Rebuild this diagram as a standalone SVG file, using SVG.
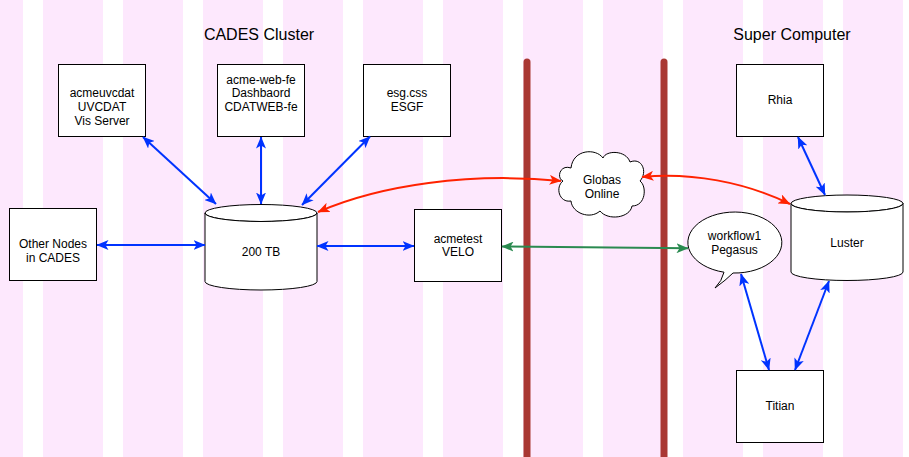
<svg xmlns="http://www.w3.org/2000/svg" width="909" height="457" viewBox="0 0 909 457">
<defs>
<pattern id="stripes" patternUnits="userSpaceOnUse" x="43" y="0" width="80" height="457">
<rect x="0" y="0" width="60" height="457" fill="#fde8fd"/>
</pattern>
<marker id="ab" viewBox="0 0 12 10" refX="11.5" refY="5" markerWidth="12" markerHeight="10" markerUnits="userSpaceOnUse" orient="auto-start-reverse">
<path d="M0,0 L12,5 L0,10 L3,5 Z" fill="#0033ff"/>
</marker>
<marker id="ar" viewBox="0 0 12 10" refX="11.5" refY="5" markerWidth="12" markerHeight="10" markerUnits="userSpaceOnUse" orient="auto-start-reverse">
<path d="M0,0 L12,5 L0,10 L3,5 Z" fill="#ff2200"/>
</marker>
<marker id="ag" viewBox="0 0 12 10" refX="11.5" refY="5" markerWidth="12" markerHeight="10" markerUnits="userSpaceOnUse" orient="auto-start-reverse">
<path d="M0,0 L12,5 L0,10 L3,5 Z" fill="#2a8a50"/>
</marker>
</defs>
<style>
.box{fill:#ffffff;stroke:#000000;stroke-width:1}
.lbl{font-family:"Liberation Sans",Arial,sans-serif;font-size:12px;fill:#000000;text-anchor:middle}
.title{font-family:"Liberation Sans",Arial,sans-serif;font-size:16px;fill:#000000;text-anchor:middle}
.bar{stroke:#a93833;stroke-width:7;stroke-linecap:round;fill:none}
.cb{fill:none;stroke:#0033ff;stroke-width:2;marker-start:url(#ab);marker-end:url(#ab)}
.cr{fill:none;stroke:#ff2200;stroke-width:2;marker-start:url(#ar);marker-end:url(#ar)}
.cg{fill:none;stroke:#2a8a50;stroke-width:2;marker-start:url(#ag);marker-end:url(#ag)}
</style>
<rect x="0" y="0" width="909" height="457" fill="#ffffff"/>
<rect x="0" y="0" width="909" height="457" fill="url(#stripes)"/>

<g id="dividers">
<line class="bar" x1="527" y1="62" x2="527" y2="462"/>
<line class="bar" x1="664" y1="62" x2="664" y2="462"/>
</g>

<g id="titles">
<text class="title" x="259" y="40">CADES Cluster</text>
<text class="title" x="792" y="40">Super Computer</text>
</g>

<g id="node-acmeuvcdat">
<rect class="box" x="58.5" y="64.5" width="87" height="72"/>
<text class="lbl" x="102" y="97">acmeuvcdat</text>
<text class="lbl" x="102" y="111">UVCDAT</text>
<text class="lbl" x="102" y="125">Vis Server</text>
</g>

<g id="node-acme-web-fe">
<rect class="box" x="217.5" y="64.5" width="87" height="72"/>
<text class="lbl" x="261" y="83.5">acme-web-fe</text>
<text class="lbl" x="261" y="97">Dashbaord</text>
<text class="lbl" x="261" y="111">CDATWEB-fe</text>
</g>

<g id="node-esg">
<rect class="box" x="363.5" y="64.5" width="87" height="72"/>
<text class="lbl" x="407" y="97">esg.css</text>
<text class="lbl" x="407" y="111">ESGF</text>
</g>

<g id="node-rhia">
<rect class="box" x="736.5" y="64.5" width="87" height="72"/>
<text class="lbl" x="780" y="104">Rhia</text>
</g>

<g id="node-other">
<rect class="box" x="9.5" y="208.5" width="87" height="72"/>
<text class="lbl" x="53" y="248">Other Nodes</text>
<text class="lbl" x="53" y="262">in CADES</text>
</g>

<g id="node-200tb">
<path class="box" d="M205,213 A56 8.5 0 0 1 317,213 A56 8.5 0 0 1 205,213 Z"/>
<path class="box" d="M205,213 A56 8.5 0 0 0 317,213 L317,281.5 A56 8.5 0 0 1 205,281.5 Z"/>
<text class="lbl" x="261" y="256">200 TB</text>
</g>

<g id="node-acmetest">
<rect class="box" x="414.5" y="209.5" width="87" height="72"/>
<text class="lbl" x="458" y="242.5">acmetest</text>
<text class="lbl" x="458" y="256">VELO</text>
</g>

<g id="node-globas">
<path class="box" d="M571,168 C560,164 556,178 563,181 C555,187 559,203 571,201 C572,213 590,220 600,211 C608,221 630,218 632,206 C646,206 647,186 640,181 C648,172 642,157 630,162 C626,150 606,150 603,158 C596,148 573,149 571,168 Z"/>
<text class="lbl" x="602" y="184">Globas</text>
<text class="lbl" x="602" y="198">Online</text>
</g>

<g id="node-workflow1">
<path class="box" d="M724,272.2 A47 30.5 0 1 1 733,273 Q726,280 715,288 Q722,281 724,272.2 Z"/>
<text class="lbl" x="734.5" y="240">workflow1</text>
<text class="lbl" x="734.5" y="254">Pegasus</text>
</g>

<g id="node-luster">
<path class="box" d="M791,203.5 A56 8.5 0 0 1 903,203.5 A56 8.5 0 0 1 791,203.5 Z"/>
<path class="box" d="M791,203.5 A56 8.5 0 0 0 903,203.5 L903,272 A56 8.5 0 0 1 791,272 Z"/>
<text class="lbl" x="847" y="247">Luster</text>
</g>

<g id="node-titian">
<rect class="box" x="736.5" y="370.5" width="87" height="72"/>
<text class="lbl" x="780" y="410">Titian</text>
</g>

<g id="connectors">
<path class="cb" d="M143,137 L216,204"/>
<path class="cb" d="M261,137 L261,204"/>
<path class="cb" d="M370,136.5 L302,205"/>
<path class="cb" d="M97,245 L205,245"/>
<path class="cb" d="M317,246 L414,246"/>
<path class="cr" d="M318,212 C380,185 470,172 561,181"/>
<path class="cr" d="M642,177 C690,172 745,182 790,204"/>
<path class="cg" d="M502,246.5 L688,248.3"/>
<path class="cb" d="M798,137 L825,195"/>
<path class="cb" d="M741,274 L769,370"/>
<path class="cb" d="M829,281 L795,370"/>
</g>
</svg>
